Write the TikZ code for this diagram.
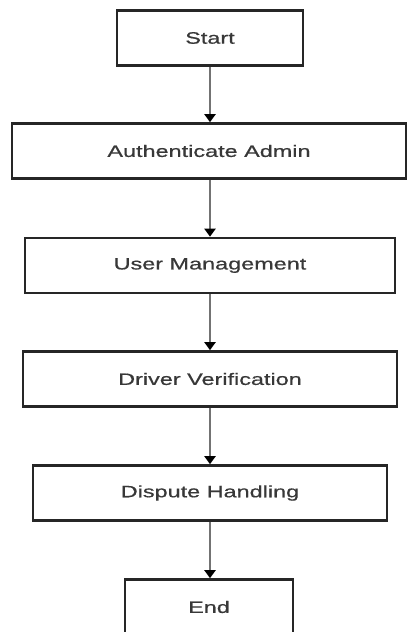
\documentclass[tikz,border=0pt]{standalone}
\usepackage{fontspec}
\setmainfont[FakeStretch=1.42,FakeBold=0.6]{Liberation Sans}
\usetikzlibrary{arrows.meta}
\tikzset{
    stepbox/.style={draw=black!85, line width=2.6pt, fill=white, minimum height=55pt,
        inner sep=0pt, text=black!78, font=\fontsize{16.5}{18}\selectfont},
    flow/.style={draw=black!55, line width=2pt,
        -{Triangle[length=8pt,width=11pt,color=black]}}
}
\begin{document}
\begin{tikzpicture}[x=1pt,y=-1pt]
    \useasboundingbox (0,0) rectangle (407,632);
    %draw boxes
    \node[stepbox, minimum width=186pt] (start) at (210,38) {Start};
    \node[stepbox, minimum width=394pt] (auth) at (209,151) {Authenticate Admin};
    \node[stepbox, minimum width=370pt] (user) at (210,265.5) {User Management};
    \node[stepbox, minimum width=374pt] (driver) at (210,379) {Driver Verification};
    \node[stepbox, minimum width=354pt] (dispute) at (210,493) {Dispute Handling};
    \node[stepbox, minimum width=168pt] (finish) at (209,607) {End};
    %draw arrows
    \foreach \a/\b in {start/auth,auth/user,user/driver,driver/dispute,dispute/finish}
        {%
            \draw[flow] (\a.south -| 210,0) -- (\b.north -| 210,0);
        }
\end{tikzpicture}
\end{document}
